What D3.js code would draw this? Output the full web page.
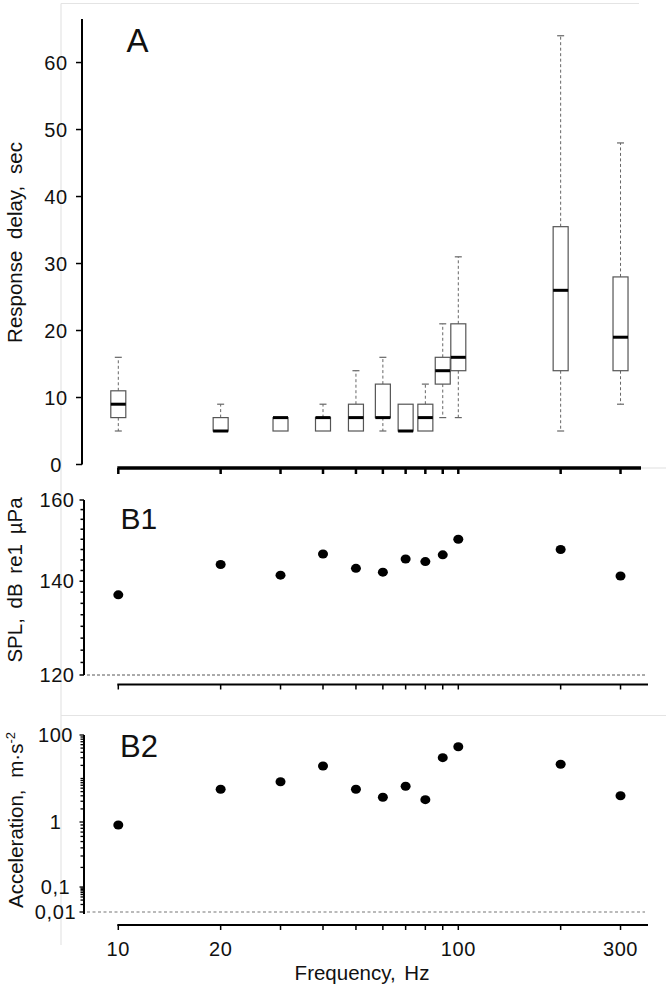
<!DOCTYPE html>
<html><head><meta charset="utf-8">
<script src="https://cdn.jsdelivr.net/npm/d3@7"></script>
<style>
html,body{margin:0;padding:0;background:#fff;}
text{font-family:"Liberation Sans",Arial,sans-serif;fill:#111;}
</style></head>
<body>
<svg id="c" width="666" height="994"></svg>
<script>
// ---------- data ----------
const freqs   = [10,20,30,40,50,60,70,80,90,100,200,300];
const boxMin  = [5, 5, 5, 5, 5, 5, 5, 5, 7, 7, 5, 9];
const boxQ1   = [7, 5, 5, 5, 5, 7, 5, 5,12,14,14,14];
const boxMed  = [9, 5, 7, 7, 7, 7, 5, 7,14,16,26,19];
const boxQ3   = [11,7, 7, 7, 9,12, 9, 9,16,21,35.5,28];
const boxMax  = [16,9, 7, 9,14,16, 9,12,21,31,64,48];
const spl     = [136.9,143.9,141.4,146.4,143.0,142.1,145.2,144.6,146.2,150.0,147.5,141.2];
const accel   = [0.9,5.65,8.44,19.4,5.65,3.70,6.62,3.26,30.1,53.8,21.2,4.02];
const splThreshold = 120;
const accThreshold = 0.01;
const yTicksA  = [0,10,20,30,40,50,60];
const yTicksB1 = [120,140,160];
const yTicksB2 = [0.01,0.1,1,100];
const yLabelsB2 = ["0,01","0,1","1","100"];
const xTickLabels = [10,20,100,300];

// ---------- layout ----------
const svg = d3.select("#c");
const x = d3.scaleLog().domain([10,100]).range([118.3,458.3]);
const xEndA = 641, xEndB = 648;

// faint frame lines (panel borders of the composed figure)
const faint = svg.append("g").attr("stroke","#e4e4e4").attr("stroke-width",1.2).attr("fill","none");
faint.append("line").attr("x1",61).attr("x2",639).attr("y1",3.5).attr("y2",3.5);
faint.append("line").attr("x1",61).attr("x2",61).attr("y1",3.5).attr("y2",945);
faint.append("line").attr("x1",61).attr("x2",666).attr("y1",715.5).attr("y2",715.5);
faint.append("line").attr("x1",641).attr("x2",666).attr("y1",468).attr("y2",468);

function xAxis(yPos, xEnd, lw, tw, tl){
  const g = svg.append("g");
  g.append("line").attr("x1",x(10)-1).attr("x2",xEnd).attr("y1",yPos).attr("y2",yPos)
    .attr("stroke","#000").attr("stroke-width",lw);
  g.selectAll("line.t").data(freqs).join("line").attr("class","t")
    .attr("x1",d=>x(d)).attr("x2",d=>x(d)).attr("y1",yPos).attr("y2",yPos+tl)
    .attr("stroke","#000").attr("stroke-width",tw);
  return g;
}

// ================= Panel A =================
const yA = d3.scaleLinear().domain([0,66.5]).range([464.5,19]);
const axA = 82;
svg.append("line").attr("x1",axA).attr("x2",axA).attr("y1",yA(0)).attr("y2",yA(66.5))
  .attr("stroke","#000").attr("stroke-width",2);
svg.selectAll("line.ta").data(yTicksA).join("line").attr("class","ta")
  .attr("x1",axA-6).attr("x2",axA).attr("y1",d=>yA(d)).attr("y2",d=>yA(d))
  .attr("stroke","#000").attr("stroke-width",1.5);
svg.selectAll("text.la").data(yTicksA).join("text").attr("class","la")
  .attr("x",56).attr("y",d=>yA(d)).attr("dy","0.36em").attr("text-anchor","middle")
  .attr("font-size",20).attr("letter-spacing",0.6).text(d=>d);
xAxis(468, xEndA, 3.5, 2.5, 6);

// boxes
const bw = 15;
const boxes = svg.append("g");
freqs.forEach((f,i)=>{
  const cx = x(f);
  const g = boxes.append("g");
  const dash = "3,2.5";
  if (boxMax[i] > boxQ3[i]) {
    g.append("line").attr("x1",cx).attr("x2",cx).attr("y1",yA(boxQ3[i])).attr("y2",yA(boxMax[i]))
      .attr("stroke","#666").attr("stroke-width",1).attr("stroke-dasharray",dash);
    g.append("line").attr("x1",cx-3.5).attr("x2",cx+3.5).attr("y1",yA(boxMax[i])).attr("y2",yA(boxMax[i]))
      .attr("stroke","#666").attr("stroke-width",1.2);
  }
  if (boxMin[i] < boxQ1[i]) {
    g.append("line").attr("x1",cx).attr("x2",cx).attr("y1",yA(boxQ1[i])).attr("y2",yA(boxMin[i]))
      .attr("stroke","#666").attr("stroke-width",1).attr("stroke-dasharray",dash);
    g.append("line").attr("x1",cx-3.5).attr("x2",cx+3.5).attr("y1",yA(boxMin[i])).attr("y2",yA(boxMin[i]))
      .attr("stroke","#666").attr("stroke-width",1.2);
  }
  g.append("rect").attr("x",cx-bw/2).attr("width",bw)
    .attr("y",yA(boxQ3[i])).attr("height",yA(boxQ1[i])-yA(boxQ3[i]))
    .attr("fill","#fff").attr("stroke","#555").attr("stroke-width",1.2);
  g.append("line").attr("x1",cx-bw/2).attr("x2",cx+bw/2).attr("y1",yA(boxMed[i])).attr("y2",yA(boxMed[i]))
    .attr("stroke","#000").attr("stroke-width",3);
});

svg.append("text").attr("x",126.5).attr("y",51.7).attr("font-size",33).text("A");
svg.append("text").attr("transform","translate(22,242.5) rotate(-90)").attr("text-anchor","middle")
  .attr("font-size",20.5).attr("word-spacing",6).text("Response delay, sec");

// ================= Panel B1 =================
const yB1 = d3.scaleLog().domain([120,160]).range([675,500]);
const axB = 84;
svg.append("line").attr("x1",axB).attr("x2",axB).attr("y1",yB1(120)).attr("y2",yB1(160))
  .attr("stroke","#000").attr("stroke-width",2);
const minorB1 = d3.range(120,160.01,2.5);
svg.selectAll("line.tb1").data(minorB1).join("line").attr("class","tb1")
  .attr("x1",d=>yTicksB1.includes(d)?axB-4.5:axB-3.5).attr("x2",axB)
  .attr("y1",d=>yB1(d)).attr("y2",d=>yB1(d)).attr("stroke","#000").attr("stroke-width",1.5);
svg.selectAll("text.lb1").data(yTicksB1).join("text").attr("class","lb1")
  .attr("x",57).attr("y",d=>yB1(d)).attr("dy","0.36em").attr("text-anchor","middle")
  .attr("font-size",20).attr("letter-spacing",0.6).text(d=>d);
svg.append("line").attr("x1",axB+3).attr("x2",645).attr("y1",yB1(splThreshold)).attr("y2",yB1(splThreshold))
  .attr("stroke","#444").attr("stroke-width",0.9).attr("stroke-dasharray","3,2");
xAxis(684.5, xEndB, 2, 1.5, 5);
svg.selectAll("ellipse.d1").data(freqs).join("ellipse").attr("class","d1")
  .attr("cx",d=>x(d)).attr("cy",(d,i)=>yB1(spl[i])).attr("rx",5).attr("ry",4.5).attr("fill","#000");
svg.append("text").attr("x",120.5).attr("y",528.5).attr("font-size",30).text("B1");
svg.append("text").attr("transform","translate(22,580) rotate(-90)").attr("text-anchor","middle")
  .attr("font-size",20.5).attr("word-spacing",4).text("SPL, dB re1 µPa");

// ================= Panel B2 =================
const yB2 = d3.scaleLog().domain([0.01,0.1,1,100]).range([912,887,822,735]);
svg.append("line").attr("x1",axB).attr("x2",axB).attr("y1",yB2(0.01)+2).attr("y2",yB2(100))
  .attr("stroke","#000").attr("stroke-width",2);
const minorB2 = [];
[0.01,0.1,1,10].forEach(p=>{ for(let k=1;k<10;k++) minorB2.push(+(k*p).toPrecision(3)); });
minorB2.push(100);
svg.selectAll("line.tb2").data(minorB2).join("line").attr("class","tb2")
  .attr("x1",d=>yTicksB2.includes(d)?axB-4.5:axB-3.5).attr("x2",axB)
  .attr("y1",d=>yB2(d)).attr("y2",d=>yB2(d)).attr("stroke","#000").attr("stroke-width",1.3);
svg.selectAll("text.lb2").data(yTicksB2).join("text").attr("class","lb2")
  .attr("x",55.5).attr("y",d=>yB2(d)).attr("dy","0.36em").attr("text-anchor","middle")
  .attr("font-size",20).attr("letter-spacing",0.6).text((d,i)=>yLabelsB2[i]);
svg.append("line").attr("x1",axB+3).attr("x2",645).attr("y1",yB2(accThreshold)).attr("y2",yB2(accThreshold))
  .attr("stroke","#777").attr("stroke-width",1.2).attr("stroke-dasharray","3,2.5");
xAxis(925, xEndB, 2, 1.5, 5);
svg.selectAll("ellipse.d2").data(freqs).join("ellipse").attr("class","d2")
  .attr("cx",d=>x(d)).attr("cy",(d,i)=>yB2(accel[i])).attr("rx",5).attr("ry",4.5).attr("fill","#000");
svg.selectAll("text.lx").data(xTickLabels).join("text").attr("class","lx")
  .attr("x",d=>x(d)).attr("y",949).attr("dy","0.36em").attr("text-anchor","middle")
  .attr("font-size",20).attr("letter-spacing",0.6).text(d=>d);
svg.append("text").attr("x",362).attr("y",973).attr("dy","0.36em").attr("text-anchor","middle")
  .attr("font-size",20.5).attr("word-spacing",3).text("Frequency, Hz");
svg.append("text").attr("x",120).attr("y",757).attr("font-size",31).text("B2");
const accLabel = svg.append("text").attr("transform","translate(23,820) rotate(-90)").attr("text-anchor","middle")
  .attr("font-size",20.5).attr("word-spacing",6);
accLabel.append("tspan").text("Acceleration, m·s");
accLabel.append("tspan").attr("font-size",13).attr("dy",-8).text("-2");
</script>
</body></html>
